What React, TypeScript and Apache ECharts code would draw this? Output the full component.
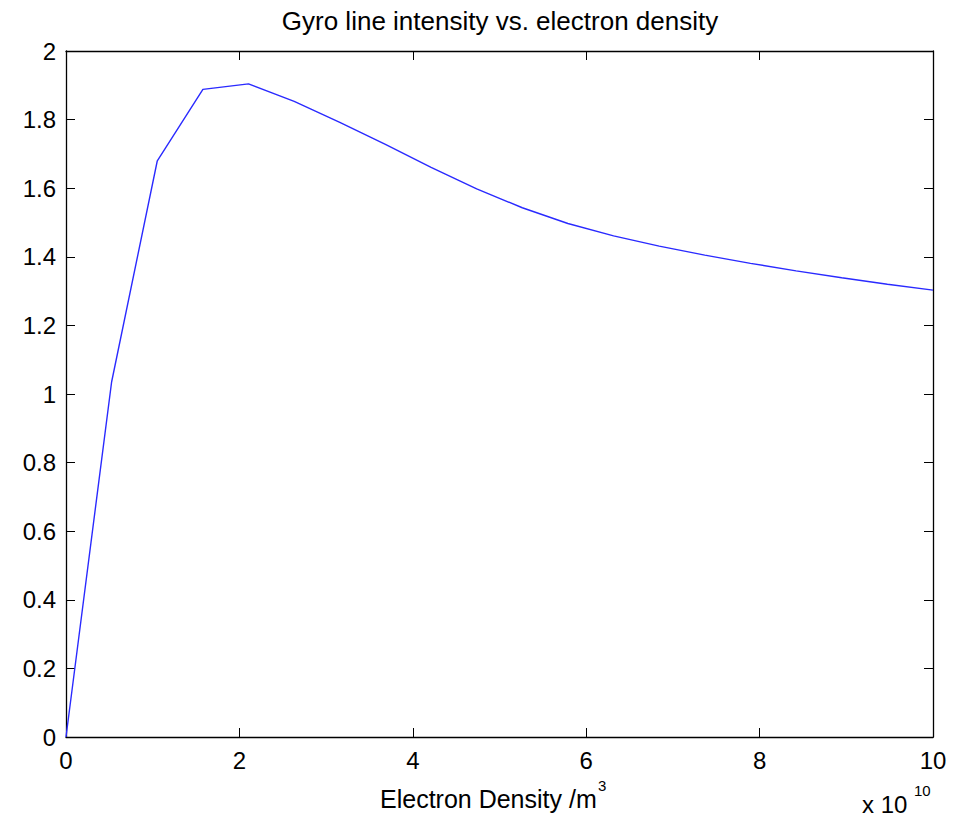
import React, { useEffect, useRef } from "react";
import * as echarts from "echarts";

const titleText = "Gyro line intensity vs. electron density";
const xAxisLabel = "Electron Density /m";
const xAxisLabelSup = "3";
const xScaleBase = "x 10";
const xScaleExp = "10";

// electron density in units of 1e10 /m^3
const density = [
  0, 0.526, 1.053, 1.579, 2.105, 2.632, 3.158, 3.684, 4.211, 4.737,
  5.263, 5.789, 6.316, 6.842, 7.368, 7.895, 8.421, 8.947, 9.474, 10,
];
const intensity = [
  0, 1.035, 1.68, 1.888, 1.904, 1.853, 1.792, 1.728, 1.661, 1.598,
  1.543, 1.497, 1.461, 1.431, 1.405, 1.381, 1.359, 1.339, 1.32, 1.303,
];

const FONT = "'Liberation Sans', Arial, Helvetica, sans-serif";

export default function App() {
  const ref = useRef<HTMLDivElement>(null);
  useEffect(() => {
    if (!ref.current) return;
    const chart = echarts.init(ref.current, null, { renderer: "svg" });
    const axisLine = { show: true, onZero: false, lineStyle: { color: "#000", width: 1.3 } };
    const tick = { show: true, inside: true, length: 9, lineStyle: { color: "#000", width: 1 } };
    chart.setOption({
      animation: false,
      backgroundColor: "#fff",
      grid: { left: 66, right: 32, top: 51, bottom: 81, containLabel: false },
      xAxis: [
        {
          type: "value",
          position: "bottom",
          min: 0,
          max: 10,
          interval: 2,
          axisLine,
          axisTick: tick,
          splitLine: { show: false },
          axisLabel: { color: "#000", fontSize: 24, fontFamily: FONT, margin: 11 },
        },
        {
          type: "value",
          position: "top",
          min: 0,
          max: 10,
          interval: 2,
          axisLine,
          axisTick: tick,
          splitLine: { show: false },
          axisLabel: { show: false },
        },
      ],
      yAxis: [
        {
          type: "value",
          position: "left",
          min: 0,
          max: 2,
          interval: 0.2,
          axisLine,
          axisTick: tick,
          splitLine: { show: false },
          axisLabel: { color: "#000", fontSize: 24, fontFamily: FONT, margin: 10 },
        },
        {
          type: "value",
          position: "right",
          min: 0,
          max: 2,
          interval: 0.2,
          axisLine,
          axisTick: tick,
          splitLine: { show: false },
          axisLabel: { show: false },
        },
      ],
      series: [
        {
          type: "line",
          xAxisIndex: 0,
          yAxisIndex: 0,
          data: density.map((d, i) => [d, intensity[i]]),
          symbol: "none",
          lineStyle: { color: "#2a2aff", width: 1.4 },
        },
      ],
      graphic: [
        {
          type: "text",
          x: 500,
          y: 21,
          style: {
            text: titleText,
            fontSize: 26,
            fontFamily: FONT,
            fill: "#000",
            align: "center",
            verticalAlign: "middle",
          },
        },
        {
          type: "text",
          x: 380,
          y: 799,
          style: {
            text: xAxisLabel,
            fontSize: 25,
            fontFamily: FONT,
            fill: "#000",
            align: "left",
            verticalAlign: "middle",
          },
        },
        {
          type: "text",
          x: 598,
          y: 785,
          style: {
            text: xAxisLabelSup,
            fontSize: 15,
            fontFamily: FONT,
            fill: "#000",
            align: "left",
            verticalAlign: "middle",
          },
        },
        {
          type: "text",
          x: 862,
          y: 804,
          style: {
            text: xScaleBase,
            fontSize: 24,
            fontFamily: FONT,
            fill: "#000",
            align: "left",
            verticalAlign: "middle",
          },
        },
        {
          type: "text",
          x: 914,
          y: 790,
          style: {
            text: xScaleExp,
            fontSize: 15,
            fontFamily: FONT,
            fill: "#000",
            align: "left",
            verticalAlign: "middle",
          },
        },
      ],
    });
    return () => chart.dispose();
  }, []);
  return (
    <div
      ref={ref}
      style={{ position: "fixed", left: 0, top: 0, width: 965, height: 818, background: "#fff" }}
    />
  );
}
